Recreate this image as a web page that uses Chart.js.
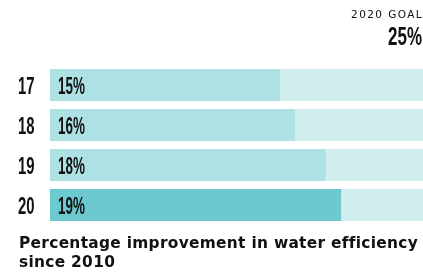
<!DOCTYPE html>
<html><head><meta charset="utf-8">
<script src="https://cdn.jsdelivr.net/npm/chart.js@4"></script>
<style>
html,body{margin:0;padding:0;background:#fff;}
#wrap{position:relative;width:423px;height:275px;overflow:hidden;}
#c{position:absolute;left:0;top:0;}
.goal{position:absolute;right:0px;top:8px;font:400 10.5px "DejaVu Sans";letter-spacing:1.4px;color:#111;text-align:right;}
.goalv{position:absolute;right:1px;top:20px;font:700 26.5px "Liberation Sans";color:#111;transform:scaleX(0.64);transform-origin:right center;line-height:32px;}
.cap{position:absolute;left:19px;top:234px;font:700 15.4px "DejaVu Sans";letter-spacing:0.3px;line-height:18.5px;color:#111;white-space:nowrap;}
</style></head>
<body><div id="wrap">
<canvas id="c" width="423" height="275"></canvas>
<div class="goal">2020 GOAL</div>
<div class="goalv">25%</div>
<div class="cap">Percentage improvement in water efficiency<br>since 2010</div>
</div>
<script>
const years = ['17','18','19','20'];
const values = [15, 16, 18, 19];
const goal = [25, 25, 25, 25];
const barColors = ['#aee1e4','#aee1e4','#aee1e4','#6bc9cf'];
const goalColor = '#d1eeee';

const labelPlugin = {
  id: 'labels',
  afterDatasetsDraw(chart) {
    const ctx = chart.ctx;
    const meta = chart.getDatasetMeta(0);
    const x = chart.scales.x;
    const y = chart.scales.y;
    ctx.save();
    ctx.fillStyle = '#111';
    ctx.textBaseline = 'alphabetic';
    ctx.font = '700 24px "Liberation Sans"';
    meta.data.forEach((bar, i) => {
      const yp = y.getPixelForValue(i) + 8.6;
      ctx.save();
      ctx.translate(x.getPixelForValue(0) + 8, yp);
      ctx.scale(0.56, 1);
      ctx.textAlign = 'left';
      ctx.fillText(values[i] + '%', 0, 0);
      ctx.restore();
      ctx.save();
      ctx.translate(18, yp);
      ctx.scale(0.62, 1);
      ctx.textAlign = 'left';
      ctx.fillText(years[i], 0, 0);
      ctx.restore();
    });
    ctx.restore();
  }
};

new Chart(document.getElementById('c'), {
  type: 'bar',
  data: {
    labels: years,
    datasets: [
      { data: values, backgroundColor: barColors, order: 0, grouped: false,
        categoryPercentage: 0.8, barPercentage: 1.0 },
      { data: goal, backgroundColor: goalColor, order: 1, grouped: false,
        categoryPercentage: 0.8, barPercentage: 1.0 }
    ]
  },
  options: {
    indexAxis: 'y',
    responsive: false,
    animation: false,
    events: [],
    layout: { padding: { left: 50, right: 0, top: 65, bottom: 50 } },
    plugins: { legend: { display: false }, tooltip: { enabled: false }, title: { display: false } },
    scales: {
      x: { display: false, min: 0, max: 24.35 },
      y: { display: false }
    }
  },
  plugins: [labelPlugin]
});
</script>
</body></html>
